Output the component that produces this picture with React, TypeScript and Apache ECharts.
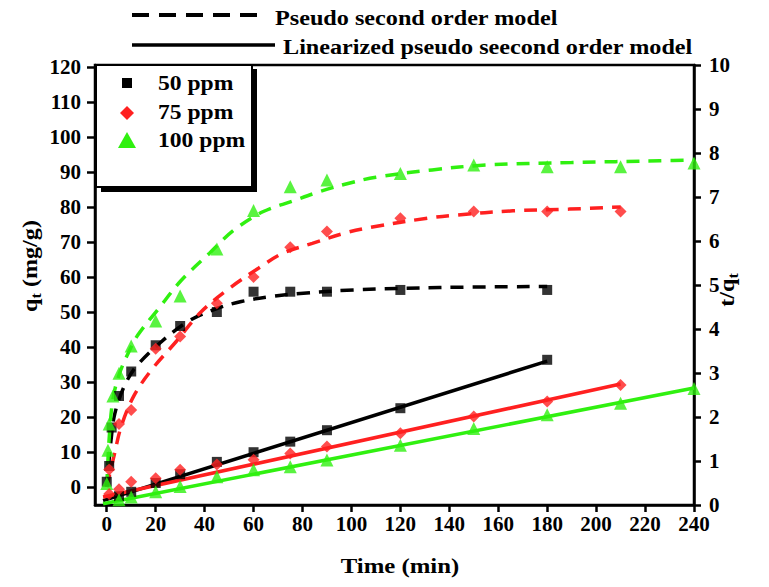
import React, { useEffect, useRef } from 'react';
import * as echarts from 'echarts';

// ---------- tick labels ----------
const xTicks = [0, 20, 40, 60, 80, 100, 120, 140, 160, 180, 200, 220, 240];
const qtTicks = [0, 10, 20, 30, 40, 50, 60, 70, 80, 90, 100, 110, 120];

// ---------- qt (left axis) experimental points ----------
const t50 = [0, 1, 2, 5, 10, 20, 30, 45, 60, 75, 90, 120, 180];
const q50 = [1.5, 6, 17, 26, 33, 40.5, 46, 50, 55.8, 55.8, 55.8, 56.3, 56.3];
const t75 = [1, 5, 10, 20, 30, 45, 60, 75, 90, 120, 150, 180, 210];
const q75 = [5, 18, 22, 39.5, 43, 52.5, 60, 68.5, 73, 76.8, 78.7, 78.7, 78.7];
const t100 = [0, 0.5, 1, 2.5, 5, 10, 20, 30, 45, 60, 75, 90, 120, 150, 180, 210, 240];
const q100 = [1, 10.5, 18, 26, 32.5, 40.3, 47.4, 54.6, 68, 79, 85.8, 87.7, 89.6, 92, 91.5, 91.5, 92.6];

// ---------- pseudo second order model curves ----------
const mt50 = [0, 1, 2, 3, 5, 8, 12, 21.5, 33, 45, 55, 67, 79, 101, 136, 180];
const mq50 = [0, 8, 15, 20, 25, 30, 34.4, 41, 47.2, 51, 53, 54.4, 55.3, 56.3, 57, 57.3];
const mt75 = [0, 3, 6, 11.3, 18.8, 28.3, 38.5, 50, 62, 72, 84, 97, 108, 131, 143, 166, 189, 210];
const mq75 = [0, 9, 17.5, 26.3, 33.9, 41.5, 50, 56.7, 62.5, 66.8, 69.6, 72.5, 74.2, 76.8, 77.7, 78.9, 79.4, 80];
const mt100 = [0, 1, 2.5, 5, 8.6, 12.7, 20.8, 30.4, 42, 52, 64, 76, 87, 99, 110, 133, 155, 190, 226, 240];
const mq100 = [0, 14, 25, 32, 38, 43.4, 50.6, 59, 66.8, 73.4, 78.7, 81.7, 84.4, 86.8, 88.5, 90.6, 92, 92.7, 93.2, 93.4];

// ---------- t/qt (right axis) points ----------
const lt50 = [5, 10, 20, 30, 45, 60, 75, 90, 120, 180];
const r50 = [0.2, 0.3, 0.5, 0.7, 0.98, 1.2, 1.44, 1.7, 2.2, 3.3];
const lt75 = [1, 5, 10, 20, 30, 45, 60, 75, 90, 120, 150, 180, 210];
const r75 = [0.25, 0.36, 0.53, 0.61, 0.8, 0.92, 1.03, 1.17, 1.33, 1.63, 2.01, 2.35, 2.73];
const lt100 = [5, 10, 20, 30, 45, 60, 75, 90, 120, 150, 180, 210, 240];
const r100 = [0.12, 0.18, 0.3, 0.42, 0.64, 0.8, 0.87, 1.02, 1.36, 1.74, 2.05, 2.31, 2.65];

// ---------- linearized model lines ----------
const ft50 = [-1.5, 180];
const fr50 = [0.1, 3.27];
const ft75 = [-1.5, 210];
const fr75 = [0.18, 2.75];
const ft100 = [-1.5, 240];
const fr100 = [0.03, 2.66];

const BLACK = '#000000';
const RED = '#ff2020';
const GREEN = '#30f010';
const FONT = 'Liberation Serif, Times New Roman, serif';

const zip = (a: number[], b: number[]) => a.map((v, i) => [v, b[i]]);

export default function App() {
  const ref = useRef<HTMLDivElement>(null);
  useEffect(() => {
    if (!ref.current) return;
    const chart = echarts.init(ref.current, undefined, { renderer: 'svg' });

    const axisLine = { show: true, onZero: false, lineStyle: { color: '#000', width: 2.5 } };
    const tickStyle = { color: '#000', width: 2.5 };
    const labelBase = { color: '#000', fontFamily: FONT, fontWeight: 'bold' as const, fontSize: 21 };

    const dashed = (name: string, t: number[], q: number[], color: string) => ({
      name, type: 'line', xAxisIndex: 0, yAxisIndex: 0, data: zip(t, q),
      showSymbol: false, symbol: 'none', smooth: 0.35, z: 2,
      lineStyle: { color, width: 3.5, type: [13, 9] },
    });
    const solid = (name: string, t: number[], r: number[], color: string) => ({
      name, type: 'line', xAxisIndex: 0, yAxisIndex: 1, data: zip(t, r),
      showSymbol: false, symbol: 'none', z: 2,
      lineStyle: { color, width: 3.5 },
    });
    const pts = (name: string, t: number[], q: number[], color: string, symbol: string, size: number | number[], yi: number) => ({
      name, type: 'scatter', xAxisIndex: 0, yAxisIndex: yi, data: zip(t, q),
      symbol, symbolSize: size, z: 3, itemStyle: { color },
    });

    const option: any = {
      animation: false,
      backgroundColor: '#ffffff',
      grid: { left: 95, right: 75, top: 65, bottom: 82, show: true, borderColor: '#000', borderWidth: 2.5, backgroundColor: 'transparent' },
      xAxis: {
        type: 'value', min: -4.8, max: 240,
        axisLine,
        axisTick: { show: true, customValues: xTicks, length: 7, lineStyle: tickStyle },
        axisLabel: { ...labelBase, customValues: xTicks, margin: 8 },
        splitLine: { show: false },
      },
      yAxis: [
        {
          type: 'value', min: -5.14, max: 120.57, position: 'left',
          axisLine,
          axisTick: { show: true, customValues: qtTicks, length: 8, lineStyle: tickStyle },
          axisLabel: { ...labelBase, customValues: qtTicks, margin: 14 },
          splitLine: { show: false },
        },
        {
          type: 'value', min: 0, max: 10, interval: 1, position: 'right',
          axisLine,
          axisTick: { show: true, length: 7, lineStyle: tickStyle },
          axisLabel: { ...labelBase, margin: 15 },
          splitLine: { show: false },
        },
      ],
      series: [
        dashed('50 ppm model', mt50, mq50, BLACK),
        dashed('75 ppm model', mt75, mq75, RED),
        dashed('100 ppm model', mt100, mq100, GREEN),
        solid('50 ppm linear', ft50, fr50, BLACK),
        solid('75 ppm linear', ft75, fr75, RED),
        solid('100 ppm linear', ft100, fr100, GREEN),
        pts('50 ppm', t50, q50, BLACK, 'rect', 10, 0),
        pts('75 ppm', t75, q75, RED, 'diamond', 12, 0),
        pts('100 ppm', t100, q100, GREEN, 'triangle', 13, 0),
        pts('50 ppm t/qt', lt50, r50, BLACK, 'rect', 10, 1),
        pts('75 ppm t/qt', lt75, r75, RED, 'diamond', 12, 1),
        pts('100 ppm t/qt', lt100, r100, GREEN, 'triangle', 13, 1),
      ],
      graphic: [
        // top legend
        { type: 'line', z: 100, shape: { x1: 132, y1: 15, x2: 262, y2: 15 }, style: { stroke: '#000', lineWidth: 4, lineDash: [17, 10] } },
        { type: 'text', z: 100, x: 275, y: 17, scaleX: 1.1, style: { text: 'Pseudo second order model', font: `bold 22px ${FONT}`, fill: '#000', verticalAlign: 'middle' } },
        { type: 'line', z: 100, shape: { x1: 132, y1: 45, x2: 275, y2: 45 }, style: { stroke: '#000', lineWidth: 3.5 } },
        { type: 'text', z: 100, x: 283, y: 46, scaleX: 1.1, style: { text: 'Linearized pseudo seecond order model', font: `bold 22px ${FONT}`, fill: '#000', verticalAlign: 'middle' } },
        // inner legend box
        { type: 'rect', z: 100, shape: { x: 101, y: 69, width: 156, height: 123 }, style: { fill: '#000' } },
        { type: 'rect', z: 101, shape: { x: 96, y: 65, width: 156, height: 122 }, style: { fill: '#fff', stroke: '#000', lineWidth: 2 } },
        { type: 'rect', z: 102, shape: { x: 122, y: 78, width: 10, height: 10 }, style: { fill: BLACK } },
        { type: 'polygon', z: 102, shape: { points: [[127, 106], [134, 113], [127, 120], [120, 113]] }, style: { fill: RED } },
        { type: 'polygon', z: 102, shape: { points: [[127, 132], [136, 148], [118, 148]] }, style: { fill: GREEN } },
        { type: 'text', z: 102, x: 158, y: 84, scaleX: 1.18, style: { text: '50 ppm', font: `bold 20px ${FONT}`, fill: '#000', verticalAlign: 'middle' } },
        { type: 'text', z: 102, x: 158, y: 113, scaleX: 1.18, style: { text: '75 ppm', font: `bold 20px ${FONT}`, fill: '#000', verticalAlign: 'middle' } },
        { type: 'text', z: 102, x: 158, y: 141, scaleX: 1.18, style: { text: '100 ppm', font: `bold 20px ${FONT}`, fill: '#000', verticalAlign: 'middle' } },
        // axis names
        { type: 'text', z: 100, x: 400, y: 566, scaleX: 1.18, style: { text: 'Time (min)', font: `bold 21px ${FONT}`, fill: '#000', align: 'center', verticalAlign: 'middle' } },
        {
          type: 'text', z: 100, x: 30, y: 266, rotation: Math.PI / 2, scaleX: 1.15,
          style: {
            text: '{a|q}{b|t}{a| (mg/g)}', align: 'center', verticalAlign: 'middle',
            rich: {
              a: { fontFamily: FONT, fontWeight: 'bold', fontSize: 21, fill: '#000', lineHeight: 26 },
              b: { fontFamily: FONT, fontWeight: 'bold', fontSize: 14, fill: '#000', lineHeight: 26, verticalAlign: 'bottom' },
            },
          },
        },
        {
          type: 'text', z: 100, x: 727, y: 290, rotation: Math.PI / 2, scaleX: 1.15,
          style: {
            text: '{a|t/q}{b|t}', align: 'center', verticalAlign: 'middle',
            rich: {
              a: { fontFamily: FONT, fontWeight: 'bold', fontSize: 21, fill: '#000', lineHeight: 26 },
              b: { fontFamily: FONT, fontWeight: 'bold', fontSize: 14, fill: '#000', lineHeight: 26, verticalAlign: 'bottom' },
            },
          },
        },
      ],
    };
    chart.setOption(option);
    return () => chart.dispose();
  }, []);
  return <div ref={ref} style={{ position: 'fixed', left: 0, top: 0, width: 769, height: 587, background: '#fff' }} />;
}
